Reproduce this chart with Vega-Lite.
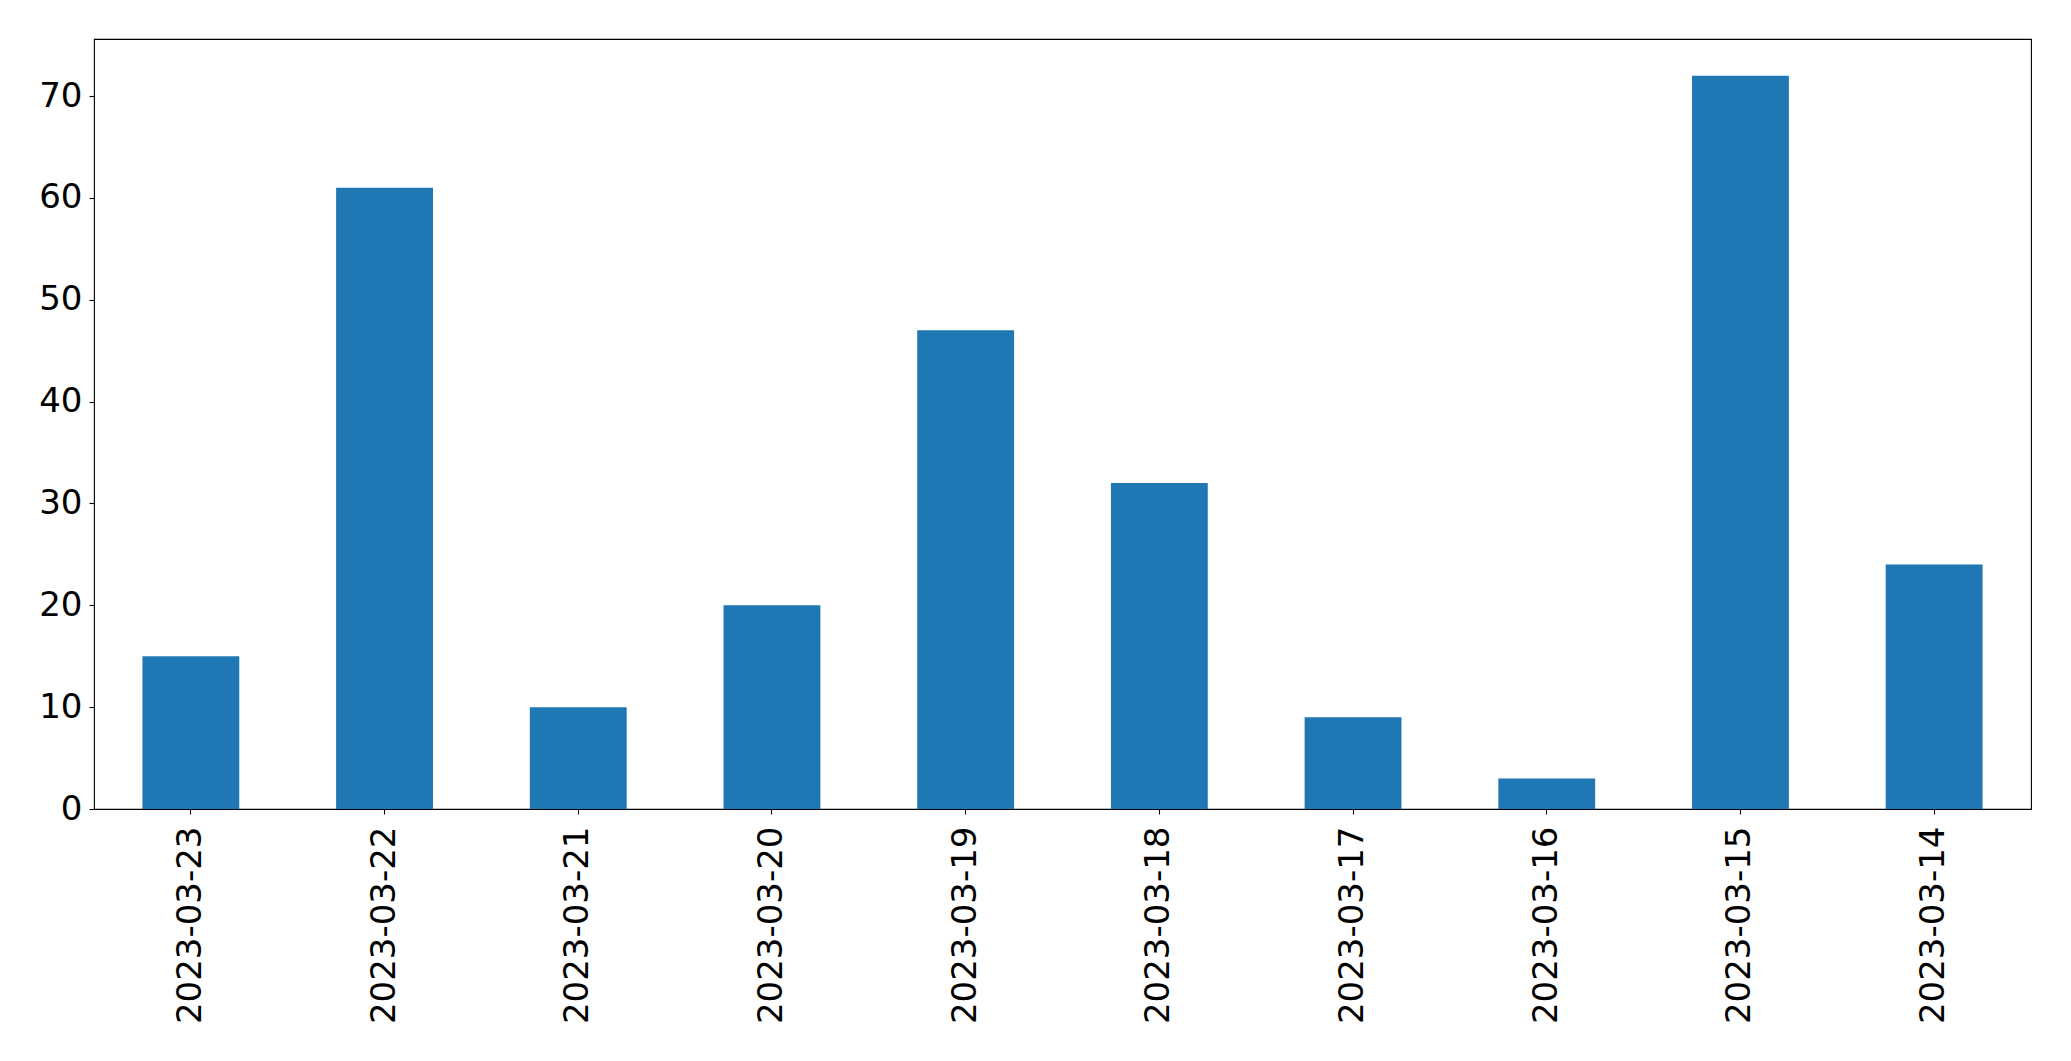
{
  "$schema": "https://vega.github.io/schema/vega-lite/v6.json",
  "width": 1937,
  "height": 770,
  "autosize": {"type": "none"},
  "padding": {"left": 94, "top": 39, "right": 40, "bottom": 252},
  "background": "white",
  "config": {
    "view": {"stroke": "black", "strokeWidth": 1.1},
    "font": "DejaVu Sans",
    "axis": {
      "labelFont": "DejaVu Sans",
      "labelFontSize": 34,
      "labelLimit": 0,
      "labelColor": "black",
      "tickColor": "black",
      "tickSize": 5,
      "tickWidth": 1.1,
      "domain": false,
      "grid": false,
      "title": null
    }
  },
  "data": {
    "values": [
      {"date": "2023-03-23", "count": 15},
      {"date": "2023-03-22", "count": 61},
      {"date": "2023-03-21", "count": 10},
      {"date": "2023-03-20", "count": 20},
      {"date": "2023-03-19", "count": 47},
      {"date": "2023-03-18", "count": 32},
      {"date": "2023-03-17", "count": 9},
      {"date": "2023-03-16", "count": 3},
      {"date": "2023-03-15", "count": 72},
      {"date": "2023-03-14", "count": 24}
    ]
  },
  "mark": {"type": "bar", "color": "#1f77b4"},
  "encoding": {
    "x": {
      "field": "date",
      "type": "nominal",
      "sort": null,
      "scale": {"paddingInner": 0.5, "paddingOuter": 0.25},
      "axis": {"labelAngle": -90, "labelPadding": 12, "labelAlign": "right", "labelBaseline": "middle"}
    },
    "y": {
      "field": "count",
      "type": "quantitative",
      "scale": {"domain": [0, 75.6], "nice": false, "zero": true},
      "axis": {"values": [0, 10, 20, 30, 40, 50, 60, 70], "labelPadding": 7}
    }
  }
}
